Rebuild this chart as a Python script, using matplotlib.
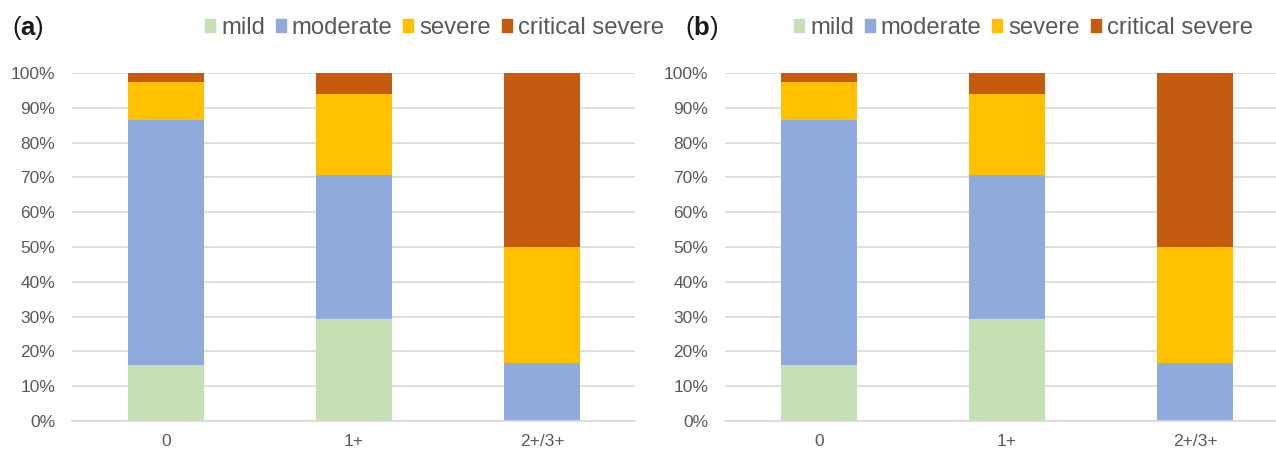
import numpy as np
import matplotlib.pyplot as plt
from matplotlib.patches import Patch

plt.rcParams['font.family'] = ['Liberation Sans', 'DejaVu Sans']
plt.rcParams['mathtext.fontset'] = 'custom'
plt.rcParams['mathtext.bf'] = 'Liberation Sans:bold'

groups = ['0', '1+', '2+/3+']
series = ['mild', 'moderate', 'severe', 'critical severe']
mild = [16.2, 29.4, 0.0]
moderate = [70.3, 41.2, 16.7]
severe = [10.8, 23.5, 33.3]
critical = [2.7, 5.9, 50.0]
colors = ['#c5e0b4', '#8faadc', '#ffc000', '#c55a11']
panels = ['a', 'b']

W, H = 1276, 451
fig = plt.figure(figsize=(W / 100, H / 100), dpi=100)

# pixel boxes of the two plot areas (left, right, top, bottom)
boxes = [(72, 635, 73, 421), (725, 1276, 73, 421)]
spacing = 188.0
grey = '#595959'

for k, (l, r, t, b) in enumerate(boxes):
    ax = fig.add_axes([l / W, 1 - b / H, (r - l) / W, (b - t) / H])
    x = np.arange(len(groups))
    bottom = np.zeros(len(groups))
    for vals, c, name in zip([mild, moderate, severe, critical], colors, series):
        ax.bar(x, vals, 0.4, bottom=bottom, color=c, label=name, zorder=3)
        bottom += np.array(vals)
    ax.set_xlim(-0.5, -0.5 + (r - l) / spacing)
    ax.set_ylim(0, 100)
    ax.set_yticks(np.arange(0, 101, 10))
    ax.set_yticklabels([f'{v}%' for v in range(0, 101, 10)])
    ax.set_xticks(x)
    ax.set_xticklabels(groups)
    ax.grid(axis='y', color='#d9d9d9', linewidth=1.2, zorder=0)
    for s in ['top', 'right', 'left']:
        ax.spines[s].set_visible(False)
    ax.spines['bottom'].set_color('#d9d9d9')
    ax.spines['bottom'].set_linewidth(1.2)
    ax.spines['bottom'].set_zorder(4)
    ax.tick_params(length=0, labelsize=12.5, colors=grey)
    ax.tick_params(axis='y', pad=12)
    ax.tick_params(axis='x', pad=9)

    lx = 12 if k == 0 else 685
    fig.text(lx / W, 1 - 28 / H, '(' + r'$\mathbf{' + panels[k] + '}$' + ')',
             fontsize=18.5, color='#1a1a1a', va='center', ha='left')
    handles = [Patch(color=c) for c in colors]
    gx = 205 if k == 0 else 794
    fig.legend(handles, series, loc='center left',
               bbox_to_anchor=(gx / W, 1 - 28 / H), ncol=4, frameon=False,
               fontsize=17.2, handlelength=0.42, handleheight=0.42,
               handletextpad=0.25, columnspacing=0.45, borderpad=0,
               borderaxespad=0, labelcolor=grey)

plt.savefig('out.png', dpi=100)
